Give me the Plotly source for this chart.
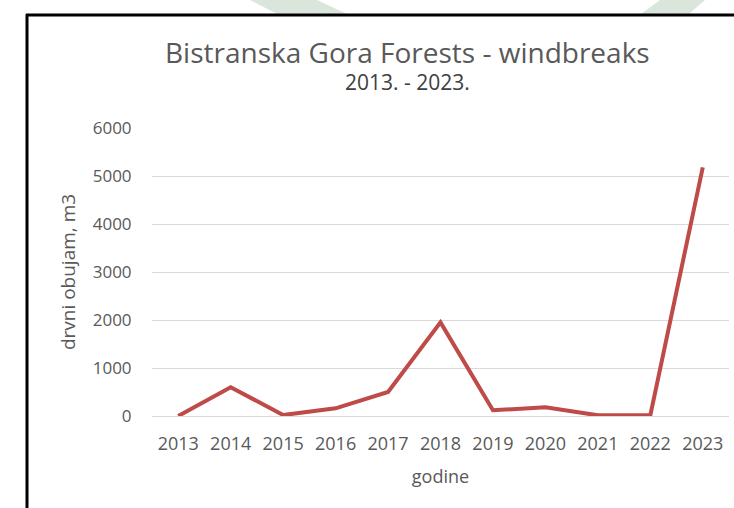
import plotly.graph_objects as go

years = ["2013", "2014", "2015", "2016", "2017", "2018", "2019", "2020", "2021", "2022", "2023"]
volume = [0, 600, 20, 160, 500, 1950, 120, 180, 15, 15, 5180]
y_ticks = [0, 1000, 2000, 3000, 4000, 5000, 6000]

W, H = 734, 508
L, R, T, B = 152, 5, 128, 92
PW = W - L - R
PH = H - T - B


def px(x):
    return (x - L) / PW


def py(y):
    return (H - B - y) / PH


fig = go.Figure()
fig.add_trace(go.Scatter(
    x=years, y=volume, mode="lines",
    line=dict(color="#be4b48", width=4),
    hoverinfo="x+y", showlegend=False,
))

shapes = []
green = "#dae6dc"
for pts in ([(250, 0), (317, 0), (347, 14), (277, 14)],
            [(660, 0), (705, 0), (689, 14), (641, 14)]):
    path = "M " + " L ".join(f"{px(a):.5f},{py(b):.5f}" for a, b in pts) + " Z"
    shapes.append(dict(type="path", xref="paper", yref="paper", path=path,
                       fillcolor=green, line=dict(width=0), layer="below"))
# frame
shapes.append(dict(type="line", xref="paper", yref="paper",
                   x0=px(26), x1=px(740), y0=py(15), y1=py(15),
                   line=dict(color="black", width=3)))
shapes.append(dict(type="line", xref="paper", yref="paper",
                   x0=px(27), x1=px(27), y0=py(14), y1=py(515),
                   line=dict(color="black", width=3)))

title_text = ("<span style='font-size:28px;color:#595959'>Bistranska Gora Forests - windbreaks</span>"
              "<br>2013. - 2023.")
annotations = [
    dict(text=title_text, xref="paper", yref="paper", align="center",
         x=px(407), y=py(31), xanchor="center", yanchor="top", showarrow=False,
         font=dict(family="Open Sans", size=21, color="#404040")),
]

fig.update_layout(
    width=W, height=H,
    margin=dict(l=L, r=R, t=T, b=B),
    paper_bgcolor="white", plot_bgcolor="white",
    shapes=shapes, annotations=annotations,
    font=dict(family="Open Sans", color="#595959"),
    xaxis=dict(
        type="category", range=[-0.5, 10.5], showgrid=False, zeroline=False,
        showline=False, ticks="outside", ticklen=11, tickcolor="rgba(0,0,0,0)",
        tickfont=dict(size=18, color="#595959"),
        title=dict(text="godine", font=dict(size=18, color="#595959"), standoff=16),
    ),
    yaxis=dict(
        range=[0, 6000], tickvals=y_ticks, showgrid=True, gridcolor="#d9d9d9",
        gridwidth=1, zeroline=True, zerolinecolor="#d9d9d9", zerolinewidth=1,
        showline=False, ticks="outside", ticklen=16, tickcolor="rgba(0,0,0,0)",
        tickfont=dict(size=17, color="#595959"),
        title=dict(text="drvni obujam, m3", font=dict(size=19, color="#595959"), standoff=12),
    ),
)

fig.write_html("out.html", config={"displayModeBar": False},
               post_script="document.body.style.margin='0';")
